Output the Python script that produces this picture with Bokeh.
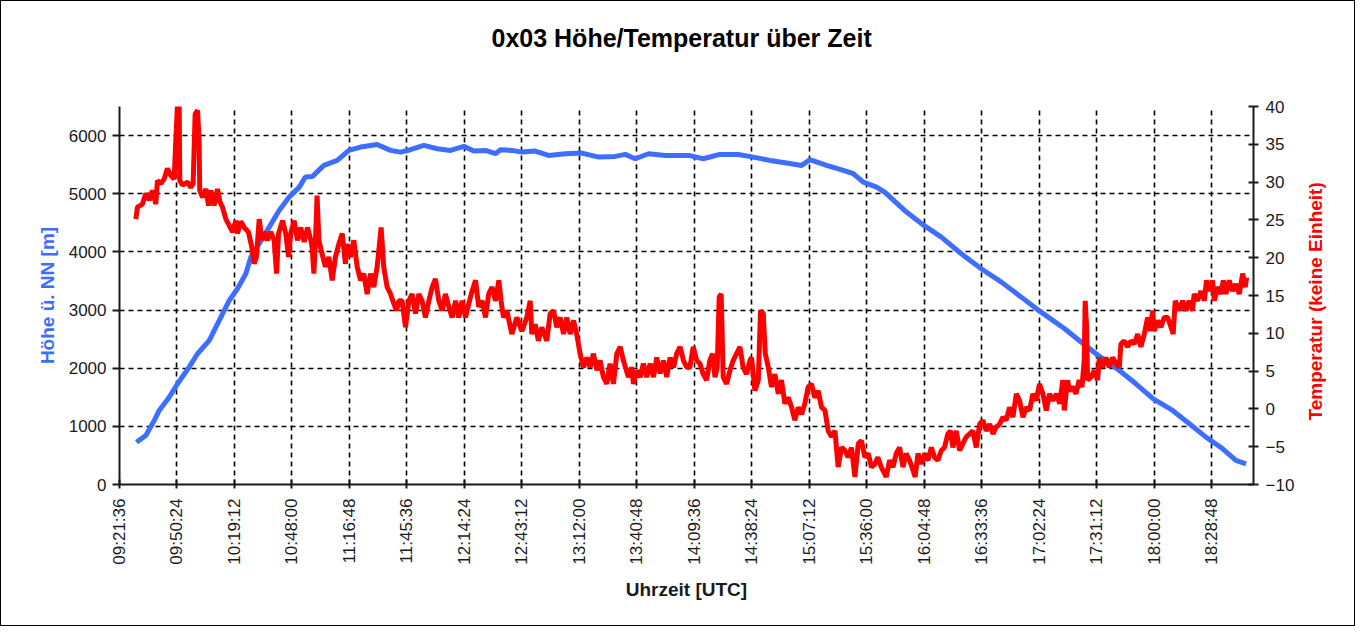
import math
from bokeh.plotting import figure
from bokeh.layouts import row
from bokeh.models import Range1d, LinearAxis, FixedTicker, Title
from bokeh.embed import file_html
from bokeh.resources import INLINE

# ---------------- data ----------------
title_text = "0x03 Höhe/Temperatur über Zeit"
x_label = "Uhrzeit [UTC]"
alt_label = "Höhe ü. NN [m]"
temp_label = "Temperatur (keine Einheit)"

x_tick_labels = ["09:21:36", "09:50:24", "10:19:12", "10:48:00", "11:16:48",
                 "11:45:36", "12:14:24", "12:43:12", "13:12:00", "13:40:48",
                 "14:09:36", "14:38:24", "15:07:12", "15:36:00", "16:04:48",
                 "16:33:36", "17:02:24", "17:31:12", "18:00:00", "18:28:48"]
x_start = "09:21:36"
x_end = "18:49:50"
alt_ticks = [0, 1000, 2000, 3000, 4000, 5000, 6000]
temp_ticks = [-10, -5, 0, 5, 10, 15, 20, 25, 30, 35, 40]
alt_range = (0, 6500)
temp_range = (-10, 40)

# altitude: time in minutes of day, altitude in m
alt_time_min = [570.1, 574.8, 579.0, 581.5, 586.5, 590.7, 596.5, 600.7, 606.6, 611.6,
                616.6, 620.7, 624.9, 627.4, 631.6, 636.6, 641.6, 646.6, 651.7, 654.7,
                658.3, 664.0, 670.7, 676.5, 682.4, 690.7, 697.4, 702.4, 707.4, 714.1,
                720.8, 727.5, 734.1, 739.2, 745.0, 750.0, 752.5, 758.2, 763.2, 769.9,
                776.6, 785.0, 793.3, 801.7, 810.0, 815.0, 820.0, 826.7, 835.1, 846.8,
                854.1, 862.4, 871.7, 879.2, 887.5, 895.9, 903.4, 907.5, 915.9, 924.3,
                929.3, 934.3, 941.0, 945.0, 955.0, 964.7, 973.4, 983.4, 993.4, 1003.5,
                1013.5, 1022.7, 1035.2, 1042.5, 1050.9, 1062.6, 1070.9, 1079.6, 1089.3, 1097.7,
                1106.0, 1114.4, 1121.0, 1126.1]
alt_m = [727, 843, 1100, 1273, 1502, 1732, 2018, 2248, 2477, 2821,
         3165, 3366, 3624, 3910, 4140, 4426, 4713, 4942, 5114, 5286,
         5298, 5487, 5573, 5745, 5802, 5848, 5745, 5716, 5757, 5831,
         5774, 5745, 5814, 5733, 5745, 5688, 5757, 5745, 5716, 5733,
         5659, 5688, 5699, 5630, 5642, 5676, 5602, 5688, 5659, 5659,
         5602, 5676, 5676, 5630, 5573, 5527, 5487, 5585, 5487, 5401,
         5344, 5200, 5114, 5028, 4713, 4455, 4254, 3968, 3710, 3480,
         3222, 2981, 2678, 2477, 2248, 1961, 1732, 1474, 1273, 1044,
         814, 614, 413, 356]

# temperature: time in minutes of day, value (no unit)
temp_time_min = [
    569.8, 570.6, 573.1, 574.8, 576.5, 578.1, 579.8, 580.6, 582.3, 584.0,
    585.6, 587.3, 589.0, 589.8, 590.7, 591.5, 591.8, 593.2, 595.7, 597.3,
    598.5, 599.5, 600.7, 601.5, 601.8, 603.2, 604.9, 606.2, 607.4, 609.0,
    610.7, 611.9, 613.2, 614.9, 616.5, 618.2, 619.9, 620.7, 622.4, 624.1,
    626.2, 627.9, 629.1, 630.2, 631.6, 632.9, 634.1, 635.7, 637.4, 639.1,
    640.3, 641.3, 643.3, 644.9, 646.3, 647.4, 649.1, 650.8, 652.4, 654.1,
    655.8, 657.5, 658.1, 659.0, 659.8, 660.6, 661.5, 663.1, 664.8, 666.5,
    668.2, 669.8, 671.5, 673.2, 674.8, 675.7, 677.3, 679.0, 680.7, 682.4,
    684.0, 685.7, 687.4, 689.0, 690.7, 692.7, 694.0, 695.7, 697.4, 699.1,
    700.4, 701.6, 703.2, 704.9, 706.6, 708.2, 709.9, 711.6, 713.2, 714.9,
    716.6, 718.3, 719.9, 721.6, 723.3, 724.9, 726.6, 728.3, 730.0, 731.6,
    733.3, 735.0, 736.6, 738.3, 740.0, 741.6, 743.3, 745.0, 746.6, 748.3,
    750.0, 751.7, 752.8, 754.0, 755.7, 758.2, 760.7, 763.2, 765.7, 767.4,
    768.2, 769.9, 771.5, 773.2, 775.7, 777.4, 779.1, 780.7, 782.4, 784.1,
    785.7, 787.4, 789.1, 790.7, 792.4, 794.1, 795.8, 797.4, 799.1, 800.8,
    802.4, 804.1, 805.8, 807.4, 809.1, 810.8, 812.5, 814.1, 816.6, 818.3,
    819.1, 820.8, 822.5, 824.1, 825.8, 827.5, 829.2, 830.8, 832.5, 834.2,
    835.8, 837.5, 839.2, 840.8, 842.5, 844.2, 845.9, 847.4, 849.1, 850.8,
    852.4, 854.1, 855.8, 857.4, 858.8, 860.0, 861.1, 862.1, 863.1, 864.1,
    865.8, 867.5, 869.1, 870.8, 872.5, 874.1, 875.8, 877.5, 878.3, 880.0,
    881.7, 882.8, 884.2, 885.2, 886.7, 888.3, 890.0, 891.7, 893.3, 895.0,
    896.7, 898.4, 900.0, 901.7, 903.4, 905.0, 906.7, 908.4, 910.0, 911.7,
    913.4, 915.1, 916.7, 918.4, 920.1, 921.7, 923.4, 925.1, 926.7, 928.4,
    930.1, 931.8, 933.4, 935.1, 936.8, 938.4, 940.1, 941.6, 943.3, 945.8,
    947.5, 949.2, 950.8, 952.5, 954.2, 955.8, 957.5, 959.2, 960.3, 961.7,
    963.4, 965.0, 966.7, 968.4, 970.0, 971.7, 973.4, 975.0, 976.7, 978.0,
    979.2, 980.9, 982.6, 984.2, 985.9, 987.6, 989.2, 990.9, 992.6, 994.2,
    995.9, 997.6, 999.3, 1000.9, 1002.6, 1004.3, 1005.9, 1007.6, 1009.3, 1011.0,
    1012.6, 1014.3, 1016.0, 1017.6, 1019.3, 1021.0, 1022.6, 1024.3, 1026.0, 1027.6,
    1029.3, 1031.0, 1032.7, 1034.3, 1035.0, 1036.7, 1037.5, 1039.2, 1040.9, 1042.5,
    1043.9, 1045.0, 1045.5, 1046.2, 1046.7, 1048.4, 1050.1, 1051.7, 1052.6, 1054.2,
    1055.9, 1057.6, 1059.2, 1060.9, 1062.6, 1063.4, 1065.1, 1066.8, 1068.4, 1070.1,
    1071.8, 1073.4, 1075.1, 1076.8, 1077.9, 1079.3, 1080.1, 1081.8, 1083.4, 1085.1,
    1086.8, 1088.5, 1089.6, 1090.6, 1092.6, 1094.3, 1096.0, 1097.6, 1099.3, 1100.1,
    1101.8, 1103.5, 1105.2, 1106.3, 1107.7, 1109.3, 1110.2, 1111.8, 1113.5, 1114.7,
    1116.0, 1117.7, 1119.3, 1121.0, 1122.7, 1124.4, 1125.7, 1126.4]
temp_val = [
    25.1, 26.7, 27.1, 28.5, 27.6, 28.9, 27.1, 30.2, 29.8, 30.4,
    31.8, 30.9, 30.4, 35.5, 40.5, 40.5, 30.2, 29.6, 30.0, 29.3,
    29.8, 39.0, 39.5, 35.5, 28.9, 28.0, 29.1, 26.9, 28.9, 26.9,
    29.1, 27.4, 26.7, 25.1, 24.3, 23.4, 24.9, 23.2, 24.8, 24.0,
    23.4, 21.4, 19.2, 20.1, 25.1, 22.3, 23.4, 22.3, 23.4, 22.3,
    17.9, 23.2, 24.9, 23.2, 20.1, 23.2, 24.9, 22.3, 24.0, 22.1,
    24.0, 22.3, 21.4, 17.9, 22.3, 28.2, 22.3, 20.5, 18.8, 20.1,
    17.0, 20.1, 21.8, 23.2, 19.2, 21.8, 20.1, 22.3, 18.8, 17.0,
    17.9, 15.2, 17.9, 16.1, 18.8, 24.0, 18.8, 16.1, 15.2, 13.9,
    13.0, 14.3, 14.3, 10.8, 14.3, 15.2, 12.6, 15.2, 14.3, 12.1,
    14.3, 16.1, 17.2, 14.3, 13.0, 15.2, 13.5, 12.1, 14.3, 12.1,
    14.3, 12.1, 13.9, 15.6, 17.0, 13.5, 14.3, 12.1, 15.2, 16.1,
    14.3, 17.0, 14.3, 12.1, 13.0, 9.9, 12.1, 10.3, 12.1, 14.3,
    9.9, 11.2, 9.0, 10.8, 9.0, 12.6, 13.0, 10.8, 12.1, 9.9,
    12.1, 9.9, 11.7, 9.9, 7.3, 5.5, 6.8, 5.5, 7.3, 5.1,
    6.4, 4.2, 3.3, 6.0, 3.3, 7.3, 8.2, 6.4, 4.2, 5.5,
    3.3, 5.1, 4.2, 6.0, 4.2, 6.0, 4.2, 6.8, 4.7, 6.4,
    4.2, 6.8, 5.5, 7.3, 8.2, 6.4, 5.5, 5.5, 8.2, 6.4,
    6.0, 4.6, 3.8, 6.4, 7.3, 4.2, 5.5, 14.8, 15.2, 4.2,
    3.3, 5.1, 6.4, 7.3, 8.2, 5.5, 4.6, 6.4, 6.8, 2.4,
    3.8, 13.0, 12.6, 7.3, 5.5, 2.9, 4.6, 2.0, 3.8, 0.7,
    1.5, 0.2, -1.5, 0.2, -0.7, 0.7, 2.9, 3.3, 1.5, 2.4,
    0.2, -0.2, -2.9, -3.7, -2.9, -7.7, -5.1, -5.5, -6.4, -5.1,
    -9.0, -4.6, -4.2, -6.4, -5.9, -7.7, -7.3, -6.4, -7.7, -9.0,
    -6.8, -7.7, -5.9, -5.1, -7.7, -5.9, -6.8, -8.1, -9.0, -5.9,
    -7.3, -5.9, -6.8, -5.1, -6.4, -6.8, -5.5, -5.1, -3.3, -2.9,
    -5.1, -2.9, -5.5, -4.6, -3.7, -3.3, -2.9, -5.1, -2.0, -1.5,
    -2.9, -2.0, -3.3, -2.4, -2.0, -1.1, -1.5, 0.2, -1.1, 2.0,
    1.1, -1.1, 0.2, -0.2, 2.0, 1.1, 3.3, 2.0, -0.2, 2.0,
    1.1, 2.0, 0.7, 3.8, -0.2, 3.8, 2.4, 2.9, 2.0, 3.8,
    2.9, 6.4, 14.3, 10.8, 3.8, 4.2, 5.1, 3.8, 6.8, 5.5,
    6.8, 5.5, 6.8, 6.0, 5.5, 8.6, 9.0, 8.2, 9.0, 8.6,
    9.9, 8.2, 9.9, 12.1, 10.3, 13.0, 10.3, 11.7, 10.8, 12.1,
    12.1, 10.8, 9.9, 14.3, 13.0, 14.3, 13.0, 14.3, 13.0, 15.2,
    14.3, 15.6, 14.3, 17.0, 15.6, 17.0, 14.3, 16.1, 15.2, 17.0,
    15.2, 17.0, 15.6, 16.5, 15.2, 17.9, 16.1, 17.4]


def hms(s):
    h, m, sec = map(int, s.split(":"))
    return h * 3600 + m * 60 + sec


n = min(len(temp_time_min), len(temp_val))
temp_time_min = temp_time_min[:n]
temp_val = temp_val[:n]

alt_sec = [t * 60 for t in alt_time_min]
temp_sec = [t * 60 for t in temp_time_min]
x_ticks = [hms(s) for s in x_tick_labels]

FONT = "Liberation Sans"
BLUE = "#3D6EFF"
RED = "#FF0000"
AXC = "#1a1a1a"
TXT = "#1a1a1a"

p = figure(width=1296, height=624, output_backend="svg", toolbar_location=None,
           x_range=Range1d(hms(x_start), hms(x_end)),
           y_range=Range1d(*alt_range),
           min_border_left=118, min_border_right=44,
           min_border_top=105, min_border_bottom=141,
           background_fill_color="white", border_fill_color="white",
           outline_line_color=None)
p.extra_y_ranges = {"temp": Range1d(*temp_range)}
p.title.text = ""

# spacer (closest to the frame) then the real title above it
p.add_layout(Title(text=" ", text_font_size="10px", standoff=42), "above")
p.add_layout(Title(text=title_text, align="left", offset=372, standoff=0,
                   vertical_align="bottom", text_font=FONT, text_font_size="25px",
                   text_font_style="bold", text_color="#000000"), "above")

# x axis
xa = p.xaxis[0]
xa.ticker = FixedTicker(ticks=x_ticks)
xa.major_label_overrides = {t: s for t, s in zip(x_ticks, x_tick_labels)}
xa.major_label_orientation = math.pi / 2
xa.axis_label = x_label
xa.axis_label_text_font = FONT
xa.axis_label_text_font_size = "19px"
xa.axis_label_text_font_style = "bold"
xa.axis_label_text_color = TXT
xa.axis_label_standoff = 11
xa.major_label_text_font = FONT
xa.major_label_text_font_size = "17px"
xa.major_label_text_color = TXT
xa.major_label_standoff = 10
xa.major_tick_in = 5
xa.major_tick_out = 4
xa.minor_tick_line_color = None
xa.axis_line_width = 2
xa.axis_line_color = AXC
xa.major_tick_line_width = 2
xa.major_tick_line_color = AXC

# left axis
ya = p.yaxis[0]
ya.ticker = FixedTicker(ticks=alt_ticks)
ya.axis_label = alt_label
ya.axis_label_text_font = FONT
ya.axis_label_text_font_size = "19px"
ya.axis_label_text_font_style = "bold"
ya.axis_label_text_color = BLUE
ya.axis_label_standoff = 8
ya.major_label_text_font = FONT
ya.major_label_text_font_size = "17px"
ya.major_label_text_color = TXT
ya.major_label_standoff = 6
ya.major_tick_in = 0
ya.major_tick_out = 7
ya.minor_tick_line_color = None
ya.axis_line_width = 2
ya.axis_line_color = AXC
ya.major_tick_line_width = 2
ya.major_tick_line_color = AXC

# right axis (ticks only; its title is drawn in the narrow strip figure)
ra = LinearAxis(y_range_name="temp", ticker=FixedTicker(ticks=temp_ticks))
ra.major_label_text_font = FONT
ra.major_label_text_font_size = "17px"
ra.major_label_text_color = TXT
ra.major_label_standoff = 7
ra.major_tick_in = 5
ra.major_tick_out = 5
ra.minor_tick_line_color = None
ra.axis_line_width = 2
ra.axis_line_color = AXC
ra.major_tick_line_width = 2
ra.major_tick_line_color = AXC
p.add_layout(ra, "right")

# grids
for g in (p.xgrid[0], p.ygrid[0]):
    g.grid_line_color = "#000000"
    g.grid_line_width = 1.6
    g.grid_line_dash = "5 4"
    g.minor_grid_line_color = None

p.line(alt_sec, alt_m, line_color=BLUE, line_width=5)
p.line(temp_sec, temp_val, line_color=RED, line_width=5, y_range_name="temp")

# narrow strip holding the right-hand axis title (reads bottom to top);
# same top/bottom borders as the main figure so the frames stay aligned
p2 = figure(width=57, height=624, output_backend="svg", toolbar_location=None,
            x_range=Range1d(0, 1), y_range=Range1d(0, 1),
            x_axis_location=None, y_axis_location=None,
            title_location="left",
            min_border_left=32, min_border_right=0,
            min_border_top=105, min_border_bottom=141,
            background_fill_color="white", border_fill_color="white",
            outline_line_color=None)
p2.grid.visible = False
p2.title.text = temp_label
p2.title.align = "left"
p2.title.offset = 64
p2.title.vertical_align = "bottom"
p2.title.standoff = 8
p2.title.text_font = FONT
p2.title.text_font_size = "19px"
p2.title.text_font_style = "bold"
p2.title.text_color = RED

layout = row(p, p2, spacing=0, styles={"border": "1px solid #000"})

open("out.html", "w").write(file_html(layout, INLINE))
